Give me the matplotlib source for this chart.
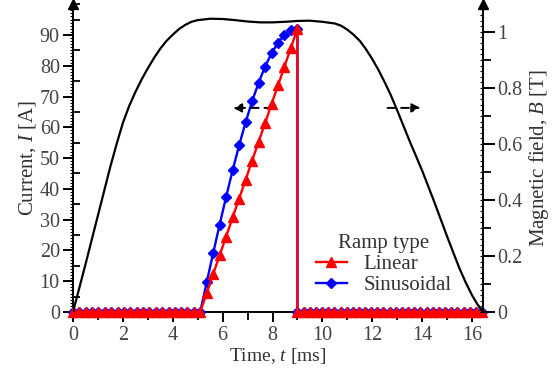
import numpy as np
import matplotlib.pyplot as plt
from matplotlib.ticker import MultipleLocator, FuncFormatter

plt.rcParams['font.family'] = ['Liberation Serif', 'DejaVu Serif']
plt.rcParams['mathtext.fontset'] = 'custom'
plt.rcParams['mathtext.rm'] = 'Liberation Serif'
plt.rcParams['mathtext.it'] = 'Liberation Serif:italic'
plt.rcParams['font.size'] = 14

# 电流数据 (ms, A)
t_idle_before = [0.00, 0.26, 0.51, 0.77, 1.02, 1.28, 1.53, 1.79, 2.04, 2.30, 2.55,
                 2.81, 3.06, 3.32, 3.57, 3.83, 4.08, 4.34, 4.59, 4.85]
t_ramp = [5.10, 5.36, 5.62, 5.88, 6.14, 6.40, 6.66, 6.92, 7.18, 7.44, 7.70,
          7.96, 8.22, 8.48, 8.74, 9.00]
i_linear = [0.0, 6.1, 12.3, 18.4, 24.5, 30.7, 36.8, 42.9, 49.1, 55.2, 61.3,
            67.5, 73.6, 79.7, 85.9, 92.0]
i_sine = [0.0, 9.6, 19.1, 28.4, 37.4, 46.0, 54.1, 61.6, 68.4, 74.4, 79.7,
          84.0, 87.5, 90.0, 91.5, 92.0]
t_idle_after = [9.00, 9.25, 9.49, 9.74, 9.99, 10.23, 10.48, 10.73, 10.97, 11.22,
                11.47, 11.71, 11.96, 12.21, 12.45, 12.70, 12.95, 13.19, 13.44,
                13.69, 13.93, 14.18, 14.43, 14.67, 14.92, 15.17, 15.41, 15.66,
                15.91, 16.15, 16.40]

# 磁场数据 (ms, T)
t_field = [0.0, 0.5, 1.0, 1.5, 1.75, 2.0, 2.25, 2.5, 2.75, 3.0, 3.25, 3.5,
           3.75, 4.0, 4.25, 4.5, 4.75, 5.0, 5.5, 6.0, 6.5, 7.0, 7.5, 8.0,
           8.5, 9.0, 9.5, 10.0, 10.5, 10.75, 11.0, 11.25, 11.5, 11.75, 12.0,
           12.25, 12.5, 12.75, 13.0, 13.5, 14.0, 14.5, 15.0, 15.5, 15.75,
           16.0, 16.2, 16.44]
b_field = [0.0, 0.17, 0.345, 0.52, 0.60, 0.675, 0.735, 0.785, 0.83, 0.87,
           0.907, 0.94, 0.968, 0.99, 1.01, 1.025, 1.036, 1.042, 1.047, 1.046,
           1.042, 1.037, 1.034, 1.034, 1.036, 1.039, 1.040, 1.036, 1.03,
           1.022, 1.008, 0.99, 0.968, 0.938, 0.903, 0.864, 0.82, 0.773, 0.72,
           0.61, 0.505, 0.39, 0.27, 0.155, 0.105, 0.06, 0.03, 0.0]

zeros_before = [0.0] * len(t_idle_before)
zeros_after = [0.0] * len(t_idle_after)
t_all = t_idle_before + t_ramp + t_idle_after
lin_all = zeros_before + i_linear + zeros_after
sin_all = zeros_before + i_sine + zeros_after

fig = plt.figure(figsize=(5.59, 3.78), dpi=100)
ax = fig.add_axes([0.1306, 0.1746, 0.7334, 0.8144])
ax2 = ax.twinx()

ax.plot(t_all, sin_all, '-', color='blue', marker='D', markersize=5, lw=1.7,
        label='Sinusoidal', clip_on=False, zorder=3)
ax.plot(t_all, lin_all, '-', color='red', marker='^', markersize=7, lw=1.7,
        label='Linear', clip_on=False, zorder=4)
ax2.plot(t_field, b_field, '-', color='black', lw=1.6)

ax.set_xlim(0, 16.44)
ax.set_ylim(0, 100)
ax2.set_ylim(0, 1.099)

for a in (ax, ax2):
    a.spines['top'].set_visible(False)
ax.spines['right'].set_visible(False)
ax2.spines['left'].set_visible(False)
ax2.spines['bottom'].set_visible(False)
for sp in ('left', 'bottom'):
    ax.spines[sp].set_linewidth(1.4)
ax2.spines['right'].set_linewidth(1.4)

# 轴顶箭头
ax.plot(0, 1.0, marker='^', color='black', markersize=7, transform=ax.transAxes,
        clip_on=False)
ax2.plot(1, 1.0, marker='^', color='black', markersize=7, transform=ax2.transAxes,
         clip_on=False)

ax.xaxis.set_major_locator(MultipleLocator(2))
ax.xaxis.set_minor_locator(MultipleLocator(1))
ax.set_yticks(np.arange(0, 91, 10))
ax.yaxis.set_minor_locator(MultipleLocator(5))
ax2.set_yticks([0, 0.2, 0.4, 0.6, 0.8, 1.0])
ax2.yaxis.set_minor_locator(MultipleLocator(0.1))
ax2.yaxis.set_major_formatter(FuncFormatter(lambda v, p: f'{v:g}'))

ax.tick_params(axis='x', which='major', direction='out', length=7, width=1.4, pad=3)
ax.tick_params(axis='x', which='minor', direction='out', length=6, width=1.3)
ax.tick_params(axis='y', which='major', direction='out', length=7.5, width=1.4, pad=2)
ax.tick_params(axis='y', which='minor', direction='in', length=5, width=1.3)
ax2.tick_params(axis='y', which='major', direction='out', length=8.5, width=1.4, pad=2)
ax2.tick_params(axis='y', which='minor', direction='out', length=6, width=1.3)
ax.tick_params(labelsize=14.5, labelcolor='#444444')
ax2.tick_params(labelsize=14.5, labelcolor='#444444')

# 细刻度
fine_l = ax.secondary_yaxis('left')
fine_l.set_yticks(np.arange(0, 100, 1))
fine_l.tick_params(axis='y', direction='out', length=2.5, width=0.8,
                   labelleft=False)
fine_l.spines['left'].set_visible(False)
fine_r = ax2.secondary_yaxis('right')
fine_r.set_yticks(np.arange(0, 1.09, 0.02))
fine_r.tick_params(axis='y', direction='in', length=2.5, width=0.8,
                   labelright=False)
fine_r.spines['right'].set_visible(False)

ax.set_xlabel('Time, $t$ [ms]', fontsize=14, color='#333333', labelpad=1)
ax.set_ylabel('Current, $I$ [A]', fontsize=15, color='#333333', labelpad=1)
ax2.set_ylabel('Magnetic field, $B$ [T]', fontsize=15, color='#333333',
               labelpad=3)

# 指示箭头
ax.annotate('', xy=(6.3, 66.3), xytext=(8.1, 66.3),
            arrowprops=dict(arrowstyle='-|>', color='black', lw=1.4,
                            linestyle=(0, (4, 3)), mutation_scale=13))
ax.annotate('', xy=(14.05, 66.3), xytext=(12.5, 66.3),
            arrowprops=dict(arrowstyle='-|>', color='black', lw=1.4,
                            linestyle=(0, (4, 3)), mutation_scale=13))

h, l = ax.get_legend_handles_labels()
leg = ax.legend(h[::-1], l[::-1], title='Ramp type', frameon=False,
                loc='lower center', bbox_to_anchor=(0.758, 0.055),
                fontsize=15, title_fontsize=15, handlelength=1.5,
                handletextpad=0.8, labelspacing=0.08, borderaxespad=0,
                borderpad=0)
for txt in leg.get_texts():
    txt.set_color('#333333')
leg.get_title().set_color('#333333')
ax2.set_zorder(ax.get_zorder() + 1)
ax2.patch.set_visible(False)

plt.savefig('out.png', dpi=100)
